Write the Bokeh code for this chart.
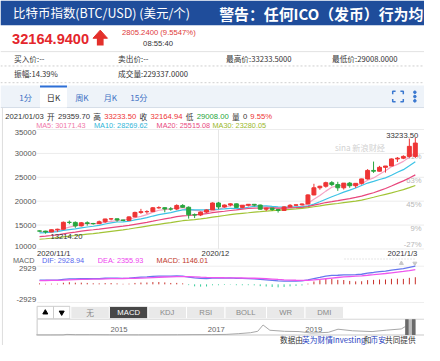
import numpy as np
import pandas as pd
from bokeh.plotting import figure
from bokeh.models import Range1d, ColumnDataSource
from bokeh.core.properties import value
from bokeh.embed import file_html
from bokeh.resources import INLINE

# ---------------- data ----------------
oct_closes = [10620, 10570, 10550, 10670, 10790, 10600, 10670, 10920, 11060, 11300,
              11380, 11540, 11430, 11430, 11510, 11320, 11360, 11500, 11750, 11920,
              12820, 12970, 12930, 13110, 13030, 13070, 13650, 13270, 13460, 13560, 13780]

opens = [13781, 13737, 13550, 14030, 14134, 15579, 15565, 14833, 15479, 15332,
         15290, 15701, 16277, 16318, 16068, 15955, 16716, 17645, 17804, 17817,
         18621, 18642, 18370, 18365, 19107, 18732, 17150, 17108, 17717, 18177,
         19625, 18802, 19201, 19445, 18699, 19155, 19346, 19192, 18321, 18554,
         18264, 18058, 18803, 19142, 19246, 19417, 21310, 22806, 23132, 23870,
         23478, 22804, 23784, 23241, 23736, 24665, 26437, 26273, 27084, 27362,
         28841, 29001, 29374, 29359.70]
highs = [13862, 13816, 14067, 14240, 15750, 15955, 15765, 15647, 15785, 15460,
         15951, 16320, 16462, 16324, 16124, 16848, 17813, 18393, 18110, 18786,
         18936, 18694, 18770, 19349, 19390, 18916, 17434, 17854, 18281, 19749,
         19845, 19308, 19566, 19511, 19160, 19390, 19400, 19283, 18626, 18580,
         18268, 18948, 19381, 19305, 19525, 21458, 23642, 23238, 24085, 24209,
         24059, 23789, 24024, 23768, 24711, 26718, 28288, 27389, 27370, 28937,
         29244, 29600, 33100, 33233.50]
lows = [13628, 13214.20, 13525, 13560, 14094, 15190, 14423, 14720, 14875, 15092,
        15282, 15440, 15993, 15717, 15830, 15898, 16606, 17346, 17351, 17771,
        18440, 17672, 18015, 18121, 18581, 16351, 16459, 16886, 17533, 18177,
        18321, 18650, 18925, 18697, 18591, 18897, 18920, 18269, 17935, 17957,
        17619, 18020, 18734, 19012, 19079, 19298, 21234, 22399, 22828, 23147,
        22159, 22431, 22802, 22778, 23463, 24522, 25922, 26207, 25987, 27360,
        28201, 28803, 29091, 29008.00]
closes = [13737, 13550, 14030, 14134, 15579, 15565, 14833, 15479, 15332, 15290,
          15701, 16277, 16318, 16068, 15955, 16716, 17645, 17804, 17817, 18621,
          18642, 18370, 18365, 19107, 18732, 17150, 17108, 17717, 18177, 19625,
          18802, 19201, 19445, 18699, 19155, 19346, 19192, 18321, 18554, 18264,
          18058, 18803, 19142, 19246, 19417, 21310, 22806, 23132, 23870, 23478,
          22804, 23784, 23241, 23736, 24665, 26437, 26273, 27084, 27362, 28841,
          29001, 29374, 31476, 32164.94]
volume_today = 229337.0
quote_time = "08:55:40"
last_date = "2021/01/03"

ma_periods = [5, 10, 20, 30]
ma_labels = ["MA5: 30171.43", "MA10: 28269.62", "MA20: 25515.08", "MA30: 23280.05"]
macd_labels = ["DIF: 2928.94", "DEA: 2355.93", "MACD: 1146.01"]
price_ticks = [35000, 30000, 25000, 20000, 15000, 10000]
pct_ticks = [30000, 25000, 20000, 15000, 10000]
pct_labels = ["81%", "63%", "45%", "9%", "-27%"]
macd_ticks = [2929, -2929]
x_tick_idx = [0, 30, 63]
x_tick_labels = ["2020/11/1", "2020/12", "2021/1/3"]
period_tabs = ["1分", "日K", "周K", "月K", "15分"]
indicator_tabs = ["无", "MACD", "KDJ", "RSI", "BOLL", "WR", "DMI"]
nav_year = [2013.3, 2013.6, 2013.85, 2013.93, 2014.1, 2014.4, 2014.8, 2015.0, 2015.4, 2015.8,
            2016.2, 2016.5, 2016.9, 2017.2, 2017.45, 2017.7, 2017.85, 2017.96, 2018.1, 2018.4,
            2018.7, 2018.95, 2019.3, 2019.5, 2019.8, 2020.2, 2020.5, 2020.8, 2020.9, 2021.0]
nav_price = [120, 100, 200, 1100, 600, 600, 380, 300, 230, 300,
             420, 650, 750, 1100, 2500, 4300, 7000, 19000, 9000, 7000,
             6500, 3700, 5000, 11000, 8000, 6500, 9200, 11500, 17000, 29000]
nav_ticks = [2015, 2017, 2019]

# ---------------- derived indicators ----------------
n = len(closes)
all_close = pd.Series(oct_closes + closes, dtype=float)
ma = {k: all_close.rolling(k).mean().iloc[-n:].values for k in ma_periods}
ema12 = all_close.ewm(span=12, adjust=False).mean()
ema26 = all_close.ewm(span=26, adjust=False).mean()
dif = ema12 - ema26
dea = dif.ewm(span=9, adjust=False).mean()
hist = 2 * (dif - dea)
dif, dea, hist = dif.iloc[-n:].values, dea.iloc[-n:].values, hist.iloc[-n:].values

o, h, l, c = opens[-1], highs[-1], lows[-1], closes[-1]
chg = c - o
chg_pct = chg / o * 100
amp = (h - l) / o * 100

# ---------------- layout constants ----------------
FS = 0.96
RW, RH = 440, 361
W, H = 424, 345
DAY0_PX, DAY_PX = 40.5, 6.19
PRICE_REF, PRICE_REF_PX, PRICE_PER_PX = 35000, 135, 200
MACD_ZERO_PX, MACD_PER_PX = 297, 2929 / 19
YEAR_REF, YEAR_REF_PX, YEAR_PX = 2015, 123, 50.5
NAV_ZERO_PX, NAV_PER_PX = 350, 1818

RED = "#ee3535"
GREEN = "#28a53e"
CJK = "Noto Sans CJK SC"
LAT = "Liberation Sans"

p = figure(width=W, height=H, x_range=Range1d(0, RW), y_range=Range1d(RH, 0),
           output_backend="svg", toolbar_location=None,
           x_axis_location=None, y_axis_location=None, min_border=0)
p.outline_line_color = None
p.grid.visible = False
p.background_fill_color = "white"
p.border_fill_color = "white"
p.extra_x_ranges = {
    "day": Range1d(-DAY0_PX / DAY_PX, (RW - DAY0_PX) / DAY_PX),
    "year": Range1d(YEAR_REF - YEAR_REF_PX / YEAR_PX, YEAR_REF + (RW - YEAR_REF_PX) / YEAR_PX),
}
p.extra_y_ranges = {
    "price": Range1d(PRICE_REF - (RH - PRICE_REF_PX) * PRICE_PER_PX, PRICE_REF + PRICE_REF_PX * PRICE_PER_PX),
    "macd": Range1d(-(RH - MACD_ZERO_PX) * MACD_PER_PX, MACD_ZERO_PX * MACD_PER_PX),
    "nav": Range1d(-(RH - NAV_ZERO_PX) * NAV_PER_PX, NAV_ZERO_PX * NAV_PER_PX),
}


def lst(v):
    return list(v) if isinstance(v, (list, tuple, np.ndarray)) else [v]


def txt(x, y, s, size, color, align="left", baseline="middle", font=CJK, bold=False,
        xr="default", yr="default", dx=0, dy=0):
    p.text(x=lst(x), y=lst(y), text=lst(s), text_font=value(font),
           text_font_size=f"{size * FS:.2f}px", text_color=color, text_align=align,
           text_baseline=baseline, text_font_style="bold" if bold else "normal",
           x_offset=dx, y_offset=dy, x_range_name=xr, y_range_name=yr)


def seg(x0, y0, x1, y1, color, width=1, dash="solid", xr="default", yr="default"):
    p.segment(x0=lst(x0), y0=lst(y0), x1=lst(x1), y1=lst(y1), line_color=color,
              line_width=width, line_dash=dash, x_range_name=xr, y_range_name=yr)


def box(l_, r_, t_, b_, fill, line=None):
    p.quad(left=lst(l_), right=lst(r_), top=lst(t_), bottom=lst(b_), fill_color=fill,
           line_color=line)


# ---------------- header ----------------
box(0, RW, 0, 26, "#1f4d9b")
txt(13, 13.5, "比特币指数(BTC/USD) (美元/个)", 13, "white")
txt(227, 13.5, "警告：任何ICO（发币）行为均", 15.5, "white", bold=True)

txt(12, 40, f"{c:.4f}", 15.2, "#e4262c", font=LAT, bold=True)
p.patch(x=[96, 103.5, 111], y=[39.5, 31, 39.5], color="#e3302b")
box(100, 107, 39, 47, "#e3302b")
txt(126, 34, f"{chg:.4f} ({chg_pct:.4f}%)", 8, "#e03a3a", font=LAT)
txt(148, 44.5, quote_time, 8, "#333333", font=LAT)

seg(0, 53.5, RW, 53.5, "#e2e2e2")
txt(14, 61, "买入价:--", 8, "#333333")
txt(122, 61, "卖出价:--", 8, "#333333")
txt(234, 61, f"最高价:{h:.4f}", 8, "#333333")
txt(344, 61, f"最低价:{l:.4f}", 8, "#333333")
seg(0, 68.5, RW, 68.5, "#cfcfcf", dash="2 2")
txt(14, 76.5, f"振幅:{amp:.2f}%", 8, "#333333")
txt(122, 76.5, f"成交量:{volume_today:.4f}", 8, "#333333")
seg(0, 86, RW, 86, "#cfcfcf", dash="2 2")

# period tabs bar
box(0, RW, 89, 112, "#eef3f9")
seg(0, 112, RW, 112, "#d5dde8")
box(41, 69, 89, 112, "white")
seg(41, 90, 69, 90, "#2d6fd6", width=2)
tab_cx = [26, 55, 84.5, 114, 143.5]
for i, t in enumerate(period_tabs):
    txt(tab_cx[i], 101, t, 8.5, "#333333" if i == 1 else "#3d70c4", align="center")
# fullscreen + menu icons
p.multi_line(xs=[[407, 407, 410], [415, 418, 418], [407, 407, 410], [415, 418, 418]],
             ys=[[98, 95, 95], [95, 95, 98], [103, 106, 106], [106, 106, 103]],
             line_color="#3a78d0", line_width=1.5)
p.scatter(x=[430, 430, 430], y=[96, 100.5, 105], size=2.6, color="#3a78d0")

seg(2, 112, 2, RH, "#dddddd")

# OHLC info row
ohlc_parts = [
    (last_date, 5, "#333333", LAT), ("开", 48.3, "#333333", CJK), (f"{o:.2f}", 59.6, "#333333", LAT),
    ("高", 96.3, "#333333", CJK), (f"{h:.2f}", 107.6, RED, LAT),
    ("收", 144.3, "#333333", CJK), (f"{c:.2f}", 155.6, RED, LAT),
    ("低", 192.3, "#333333", CJK), (f"{l:.2f}", 203.6, GREEN, LAT),
    ("量", 240.3, "#333333", CJK), ("0", 251.6, "#333333", LAT),
    (f"{chg_pct:.2f}%", 259.3, RED, LAT),
]
for s, x, col, f in ohlc_parts:
    txt(x, 121, s, 8, col, font=f)

ma_colors = ["#f07aa8", "#2fb5d8", "#e84a7f", "#9ab82a"]
ma_line_colors = ["#f6a3c4", "#3cc3e6", "#e8467c", "#a2c436"]
ma_label_x = [37, 97, 162, 220]
for lab, x, col in zip(ma_labels, ma_label_x, ma_colors):
    txt(x, 130.5, lab, 7.6, col, font=LAT)

# ---------------- price chart ----------------
seg([38] * len(price_ticks), price_ticks, [RW] * len(price_ticks), price_ticks, "#ececec", yr="price")
seg(30, price_ticks[0], 30, price_ticks[-1], "#e6e6e6", xr="day", yr="price")

txt(37, price_ticks[0], str(price_ticks[0]), 8, "#555555", align="right", baseline="top", font=LAT, yr="price")
txt([37] * 4, price_ticks[1:-1], [str(v) for v in price_ticks[1:-1]], 8, "#555555", align="right",
    font=LAT, yr="price")
txt(37, price_ticks[-1], str(price_ticks[-1]), 8, "#555555", align="right", baseline="bottom", font=LAT, yr="price")

txt([437] * 4, pct_ticks[:-1], pct_labels[:-1], 8, "#b8b8b8", align="right", font=LAT, yr="price", dy=3)
txt(437, pct_ticks[-1], pct_labels[-1], 8, "#b8b8b8", align="right", baseline="bottom", font=LAT, yr="price")

txt(347, 153.5, "sina 新浪财经", 8.5, "#d2d2d2")

idx = np.arange(n)
for k, col in zip(ma_periods, ma_line_colors):
    p.line(idx, ma[k], line_color=col, line_width=1.2, x_range_name="day", y_range_name="price")

op, hi, lo, cl = map(np.asarray, (opens, highs, lows, closes))
cols = np.where(cl >= op, RED, GREEN)
src = ColumnDataSource(dict(idx=idx, lo=lo, hi=hi, top=np.maximum(op, cl), bot=np.minimum(op, cl), col=cols))
p.segment(x0="idx", y0="lo", x1="idx", y1="hi", line_color="col", line_width=1, source=src,
          x_range_name="day", y_range_name="price")
p.vbar(x="idx", width=0.66, top="top", bottom="bot", fill_color="col", line_color="col", source=src,
       x_range_name="day", y_range_name="price")

imax, imin = int(np.argmax(hi)), int(np.argmin(lo))
txt(imax, hi[imax], f"{hi[imax]:.2f}", 8, "#333333", align="right", baseline="bottom", font=LAT,
    xr="day", yr="price", dx=3)
txt(imin, lo[imin], f"{lo[imin]:.2f}", 8, "#333333", align="left", baseline="top", font=LAT,
    xr="day", yr="price", dx=5)

# x labels
txt(x_tick_idx[0], 264.5, x_tick_labels[0], 8, "#333333", align="left", font=LAT, xr="day", dx=-2.5)
txt(x_tick_idx[1], 264.5, x_tick_labels[1], 8, "#333333", align="center", font=LAT, xr="day", dx=-3)
txt(x_tick_idx[2], 264.5, x_tick_labels[2], 8, "#333333", align="right", font=LAT, xr="day", dx=2)

# ---------------- MACD panel ----------------
txt(13, 272, "MACD", 7.6, "#666666", font=LAT)
for lab, x, col in zip(macd_labels, [43, 101, 162], ["#5566ee", "#ee44ee", "#c0392b"]):
    txt(x, 272, lab, 7.6, col, font=LAT)
seg(357, 270.5, 430, 270.5, "#cccccc", dash="1 2")
p.scatter(x=[416], y=[275], marker="triangle", size=4, color="#c8c8c8")
p.scatter(x=[430], y=[275], marker="inverted_triangle", size=4, color="#c8c8c8")

seg([38, 38], macd_ticks, [RW, RW], macd_ticks, "#eeeeee", yr="macd")
txt(37, macd_ticks[0], str(macd_ticks[0]), 8, "#555555", align="right", baseline="top", font=LAT, yr="macd")
txt(37, macd_ticks[1], str(macd_ticks[1]), 8, "#555555", align="right", baseline="bottom", font=LAT, yr="macd")

hsrc = ColumnDataSource(dict(idx=idx, zero=np.zeros(n), hist=hist,
                             col=np.where(hist >= 0, "#c8302a", "#33cc99")))
p.segment(x0="idx", y0="zero", x1="idx", y1="hist", line_color="col", line_width=1, source=hsrc,
          x_range_name="day", y_range_name="macd")
p.line(idx, dif, line_color="#6677ee", line_width=1.3, x_range_name="day", y_range_name="macd")
p.line(idx, dea, line_color="#ee55ee", line_width=1.3, x_range_name="day", y_range_name="macd")

# ---------------- indicator tabs ----------------
box(38, 72, 320, 333, "white", "#cccccc")
seg(55, 320, 55, 333, "#cccccc")
p.scatter(x=[46.5], y=[326.5], marker="triangle", size=5, color="black")
p.scatter(x=[63.5], y=[326.5], marker="inverted_triangle", size=5, color="black")
edges = [73, 113, 153, 193, 233, 276, 316, 356]
for i, t in enumerate(indicator_tabs):
    sel = t == "MACD"
    box(edges[i], edges[i + 1], 320, 333, "#474747" if sel else "#e9e9e9", "white")
    txt((edges[i] + edges[i + 1]) / 2, 326.5, t, 8, "white" if sel else "#8a8a8a",
        align="center", font=CJK if t == "无" else LAT)

# ---------------- navigator ----------------
seg(38, 333.5, RW, 333.5, "#d6d6d6")
seg(38, 350, RW, 350, "#c8c8c8")
seg(38, 333.5, 38, 350, "#c8c8c8")
p.line(nav_year, nav_price, line_color="#a8a8a8", line_width=1, x_range_name="year", y_range_name="nav")
txt(nav_ticks, [344] * len(nav_ticks), [str(v) for v in nav_ticks], 8, "#666666", align="center",
    font=LAT, xr="year")
box(420, 431, 333.5, 350, "#bdbdbd")
box(420, 423.5, 333.5, 350, "#6a6a6a")
box(427, 430.5, 333.5, 350, "#6a6a6a")

# ---------------- footer ----------------
for s, x, col in [("数据由", 290, "#333333"), ("英为财情Investing", 313, "#1f3fbf"), ("和", 377, "#333333"),
                  ("币安", 384, "#1f3fbf"), ("共同提供", 399, "#333333")]:
    txt(x, 354.5, s, 8, col)

open("out.html", "w").write(file_html(p, INLINE, title="BTC/USD"))
